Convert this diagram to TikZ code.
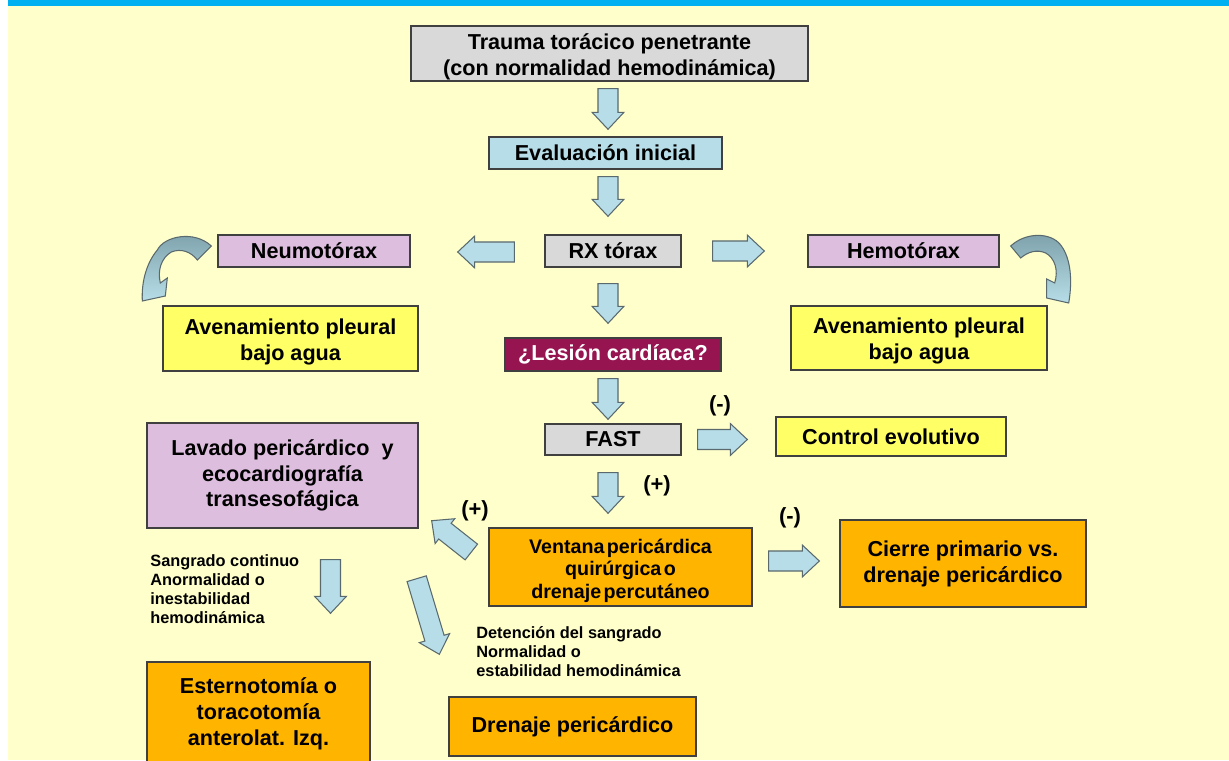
\documentclass[tikz,border=0pt]{standalone}
\usepackage{fontspec}
\setmainfont{Liberation Sans}
\usepackage{xcolor}
\usepackage{tikz}
\usetikzlibrary{calc}

\definecolor{bgyellow}{RGB}{255,255,204}
\definecolor{topbar}{RGB}{0,176,240}
\definecolor{boxgray}{RGB}{217,217,217}
\definecolor{boxblue}{RGB}{183,222,232}
\definecolor{boxlilac}{RGB}{222,190,222}
\definecolor{boxyellow}{RGB}{255,255,102}
\definecolor{boxorange}{RGB}{255,180,0}
\definecolor{boxmaroon}{RGB}{150,20,80}
\definecolor{edge}{RGB}{64,64,64}
\definecolor{arrowfill}{RGB}{183,222,232}
\definecolor{arrowedge}{RGB}{90,105,110}
\definecolor{curvedark}{RGB}{125,160,170}

\tikzset{
  box/.style={draw=edge, line width=0.8pt, align=center, inner sep=0pt,
    font=\bfseries\fontsize{12.3}{14.7}\selectfont},
  graybox/.style={box, fill=boxgray},
  bluebox/.style={box, fill=boxblue},
  lilacbox/.style={box, fill=boxlilac},
  yellowbox/.style={box, fill=boxyellow},
  orangebox/.style={box, fill=boxorange},
  blockarr/.style={fill=arrowfill, draw=arrowedge, line width=0.6pt, line join=miter},
  curvearr/.style={top color=curvedark, bottom color=arrowfill, draw=arrowedge, line width=0.6pt},
  note/.style={font=\bfseries\fontsize{9.3}{10.9}\selectfont, align=left, inner sep=0pt, anchor=north west},
  sign/.style={font=\bfseries\fontsize{12.5}{14}\selectfont, inner sep=0pt},
}

\newcommand{\tsp}{\hspace{0.12em}}
\newcommand{\lift}{\rule{0pt}{12.5pt}}

% block arrow from #1 to #2 (coordinates)
\newcommand{\blockarrow}[2]{%
  \path (#1) coordinate (ba-s);
  \path (#2) coordinate (ba-e);
  \path ($(ba-e)!9.6pt!(ba-s)$) coordinate (ba-h);
  \filldraw[blockarr] ($(ba-s)!5.7pt!90:(ba-e)$) -- ($(ba-h)!5.7pt!90:(ba-e)$)
    -- ($(ba-h)!9pt!90:(ba-e)$) -- (ba-e) -- ($(ba-h)!9pt!-90:(ba-e)$)
    -- ($(ba-h)!5.7pt!-90:(ba-e)$) -- ($(ba-s)!5.7pt!-90:(ba-e)$) -- cycle;
}

\begin{document}
\begin{tikzpicture}[x=0.02cm, y=-0.02cm]
  % page and background
  \useasboundingbox (0,0) rectangle (1229,760);
  \fill[white] (0,0) rectangle (1229,760);
  \fill[bgyellow] (8,6) rectangle (1229,760);
  \fill[topbar] (8,0) rectangle (1229,6);
  \clip (0,0) rectangle (1229,760);
  \coordinate (col) at (608,0);

  % central column
  \node[graybox, minimum width=7.94cm, minimum height=1.10cm] (trauma) at (609.5,53.5)
    {\lift Trauma torácico penetrante\\(con normalidad hemodinámica)};
  \node[bluebox, minimum width=4.66cm, minimum height=0.64cm] (eval) at (605.5,153) {Evaluación inicial};
  \node[graybox, minimum width=2.72cm, minimum height=0.64cm] (rx) at (613,251) {RX tórax};
  \node[box, fill=boxmaroon, text=white, minimum width=4.32cm, minimum height=0.66cm] (lesion)
    at (613,354.5) {¿Lesión cardíaca?};
  \node[graybox, minimum width=2.72cm, minimum height=0.62cm] (fast) at (613,439.5) {FAST};
  \node[orangebox, minimum width=5.26cm, minimum height=1.56cm,
    font=\bfseries\fontsize{11.2}{13}\selectfont] (ventana) at (620.5,567)
    {\lift Ventana\tsp pericárdica\\quirúrgica\tsp o\\drenaje\tsp percutáneo};

  % sides
  \node[lilacbox, minimum width=3.84cm, minimum height=0.64cm] (neumo) at (314,251) {Neumotórax};
  \node[lilacbox, minimum width=3.82cm, minimum height=0.64cm] (hemo) at (903.5,251) {Hemotórax};
  \node[yellowbox, minimum width=5.10cm, minimum height=1.30cm] (avL) at (290.5,338.5)
    {\lift Avenamiento pleural\\bajo agua};
  \node[yellowbox, minimum width=5.12cm, minimum height=1.28cm] (avR) at (919,338)
    {\lift Avenamiento pleural\\bajo agua};
  \node[yellowbox, minimum width=4.60cm, minimum height=0.78cm] (control) at (891,436.5) {Control evolutivo};
  \node[lilacbox, minimum width=5.42cm, minimum height=2.10cm] (lavado) at (282.5,475.5)
    {Lavado pericárdico~ y\\ecocardiografía\\transesofágica};
  \node[orangebox, minimum width=4.92cm, minimum height=1.74cm] (cierre) at (963,563.5)
    {Cierre primario vs.\\drenaje pericárdico};
  \node[orangebox, minimum width=4.46cm, minimum height=2.08cm] (esterno) at (258.5,714)
    {Esternotomía o\\toracotomía\\anterolat. Izq.};
  \node[orangebox, minimum width=4.94cm, minimum height=1.18cm] (drenaje) at (572.5,726.5)
    {Drenaje pericárdico};

  % notes and signs
  \node[note] (sangrado) at (150,554)
    {Sangrado continuo\\Anormalidad o\\inestabilidad\\hemodinámica};
  \node[note] (detencion) at (476,626)
    {Detención del sangrado\\Normalidad o\\estabilidad hemodinámica};
  \node[sign] (neg1) at (720,406) {(-)};
  \node[sign] (pos1) at (657,486) {(+)};
  \node[sign] (pos2) at (475,511) {(+)};
  \node[sign] (neg2) at (790,518) {(-)};

  % block arrows
  \blockarrow{$(trauma.south -| col)+(0,7)$}{$(eval.north -| col)+(0,-7)$}
  \blockarrow{$(eval.south -| col)+(0,7)$}{$(rx.north -| col)+(0,-18)$}
  \blockarrow{$(rx.south -| col)+(0,16)$}{$(lesion.north -| col)+(0,-14)$}
  \blockarrow{$(lesion.south -| col)+(0,7)$}{$(fast.north -| col)+(0,-4)$}
  \blockarrow{$(fast.south -| col)+(0,17)$}{$(ventana.north -| col)+(0,-14)$}
  \blockarrow{$(rx.west)+(-30,1)$}{$(neumo.east)+(47,1)$}
  \blockarrow{$(rx.east)+(31,0)$}{$(hemo.west)+(-43,0)$}
  \blockarrow{$(fast.east)+(16,0)$}{$(control.west |- fast.east)+(-28,0)$}
  \blockarrow{$(ventana.east)+(16,-6)$}{$(cierre.west |- ventana.east)+(-20,-6)$}
  \blockarrow{$(ventana.west)+(-17,-15)$}{$(lavado.south east)+(13,-8)$}
  \blockarrow{$(lavado.south)+(48,31)$}{$(esterno.north)+(72,-48)$}
  \blockarrow{$(lavado.south east)+(-2,50)$}{$(drenaje.north west)+(-9,-42)$}

  % curved arrows
  \begin{scope}[shift={(neumo.west)}]
    \shadedraw[curvearr] (-6,-5) .. controls (-23,-21) and (-53,-15) .. (-60,-1)
      .. controls (-70,11) and (-76,29) .. (-75,50) -- (-52,45) -- (-50,27) -- (-57,32)
      .. controls (-60,19) and (-56,7) .. (-46,1) .. controls (-36,-3) and (-26,1) .. (-20,9) -- cycle;
  \end{scope}
  \begin{scope}[shift={(hemo.east)}]
    \shadedraw[curvearr] (11,-5) .. controls (26,-19) and (51,-19) .. (61,-6)
      .. controls (71,7) and (73,29) .. (69,52) -- (47,47) -- (47,28) -- (55,32)
      .. controls (59,19) and (55,7) .. (46,2) .. controls (37,-2) and (28,1) .. (21,7) -- cycle;
  \end{scope}
\end{tikzpicture}
\end{document}
